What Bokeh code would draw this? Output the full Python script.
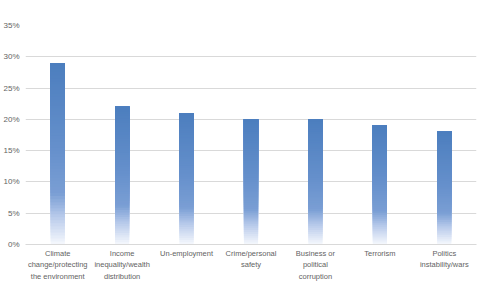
import numpy as np
from bokeh.plotting import figure
from bokeh.models import FixedTicker, Range1d, ColumnDataSource, NumeralTickFormatter
from bokeh.embed import file_html
from bokeh.resources import INLINE

categories = ["Climate\nchange/protecting\nthe environment", "Income\ninequality/wealth\ndistribution",
              "Un-employment", "Crime/personal\nsafety", "Business or\npolitical\ncorruption",
              "Terrorism", "Politics\ninstability/wars"]
values = [0.29, 0.22, 0.21, 0.20, 0.20, 0.19, 0.18]
y_ticks = [0, 0.05, 0.10, 0.15, 0.20, 0.25, 0.30, 0.35]

p = figure(width=482, height=289, output_backend="svg", toolbar_location=None,
           x_range=Range1d(-0.5, len(categories) - 0.5), y_range=Range1d(0, 0.35),
           min_border_left=20, min_border_right=6, min_border_top=25, min_border_bottom=45)
p.outline_line_color = None
p.background_fill_color = "white"

# gradient bars built from overlapping slices (each from its band bottom to the bar top)
stops = [(0.0, (76, 126, 190)), (0.45, (100, 143, 203)), (0.72, (122, 158, 212)),
         (0.85, (186, 204, 235)), (1.0, (246, 248, 253))]
def col(f):
    for (a, ca), (b, cb) in zip(stops[:-1], stops[1:]):
        if a <= f <= b:
            t = (f - a) / (b - a)
            c = [int(round(ca[k] + (cb[k] - ca[k]) * t)) for k in range(3)]
            return "#%02x%02x%02x" % tuple(c)
    return "#ffffff"

N = 60
xs, bots, tops, cols = [], [], [], []
for i, v in enumerate(values):
    for j in range(N):
        xs.append(i)
        bots.append(v * j / N)
        tops.append(v)
        cols.append(col(1 - (j + 0.5) / N))
src = ColumnDataSource(dict(x=xs, bottom=bots, top=tops, color=cols))
p.vbar(x="x", bottom="bottom", top="top", width=0.22, fill_color="color", line_color=None,
       source=src)

p.xaxis.ticker = FixedTicker(ticks=list(range(len(categories))))
p.xaxis.major_label_overrides = {i: c for i, c in enumerate(categories)}
p.xaxis.major_tick_line_color = None
p.xaxis.minor_tick_line_color = None
p.xaxis.major_tick_in = 0
p.xaxis.major_tick_out = 0
p.xaxis.axis_line_color = "#d9d9d9"
p.xaxis.major_label_text_font = "Liberation Sans"
p.xaxis.major_label_text_font_size = "7.5px"
p.xaxis.major_label_text_color = "#636363"
p.xaxis.major_label_text_line_height = 1.3
p.xaxis.major_label_standoff = 4

p.yaxis.ticker = FixedTicker(ticks=y_ticks)
p.yaxis.formatter = NumeralTickFormatter(format="0%")
p.yaxis.axis_line_color = None
p.yaxis.major_tick_line_color = None
p.yaxis.minor_tick_line_color = None
p.yaxis.major_tick_in = 0
p.yaxis.major_tick_out = 0
p.yaxis.major_label_text_font = "Liberation Sans"
p.yaxis.major_label_text_font_size = "8px"
p.yaxis.major_label_text_color = "#636363"
p.yaxis.major_label_standoff = 6

p.xgrid.grid_line_color = None
p.ygrid.ticker = FixedTicker(ticks=y_ticks[1:-1])
p.ygrid.grid_line_color = "#d9d9d9"

open("out.html", "w").write(file_html(p, INLINE))
